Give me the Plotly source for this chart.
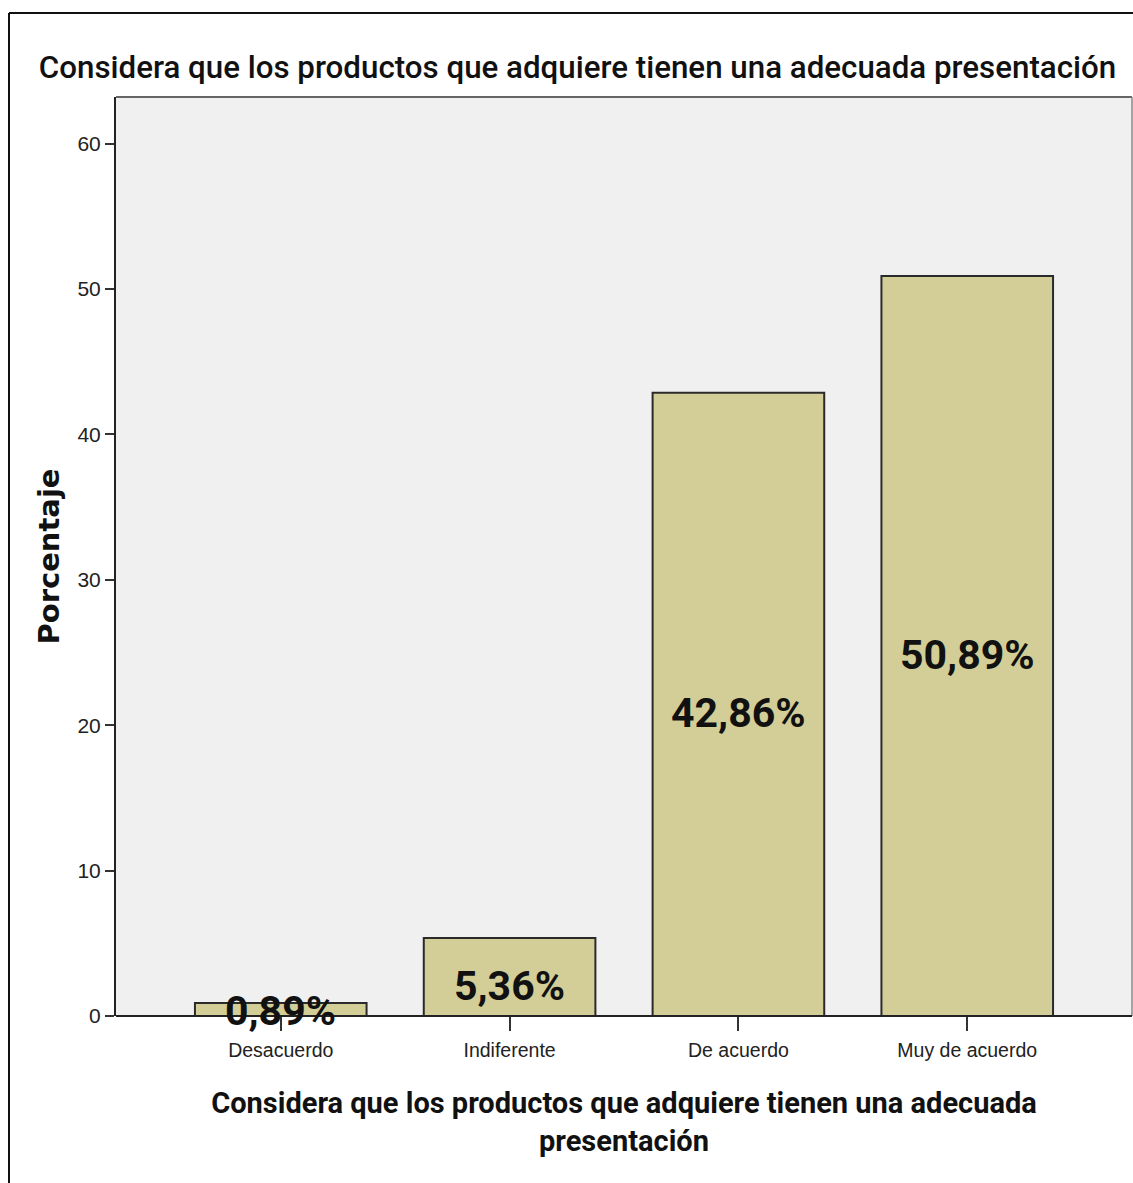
import plotly.graph_objects as go

categories = ["Desacuerdo", "Indiferente", "De acuerdo", "Muy de acuerdo"]
percentages = [0.89, 5.36, 42.86, 50.89]
labels = ["0,89%", "5,36%", "42,86%", "50,89%"]
y_ticks = [0, 10, 20, 30, 40, 50, 60]

title_text = "Considera que los productos que adquiere tienen una adecuada presentación"
xaxis_title = "Considera que los productos que adquiere tienen una adecuada<br>presentación"
yaxis_title = "Porcentaje"

FONT = "Roboto, Liberation Sans, Arial, sans-serif"
TICKFONT = "Liberation Sans, Arial, sans-serif"

W, H = 1133, 1183
L, R, T, B = 116, 1, 97, 167
pw, ph = W - L - R, H - T - B

def px_x(x):
    return (x - L) / pw

def px_y(y):
    return (H - B - y) / ph

fig = go.Figure()
fig.add_trace(go.Bar(
    x=categories, y=percentages, width=0.75,
    marker=dict(color="#D3CE97", line=dict(color="#2a2a2a", width=2)),
    hoverinfo="skip", showlegend=False,
))
for cat, val, lab in zip(categories, percentages, labels):
    fig.add_annotation(
        x=cat, y=val / 2, text=lab, showarrow=False,
        xanchor="center", yanchor="middle", yshift=-min(9.0, 2.0 * val),
        font=dict(family=FONT, size=41, color="#111111", weight="bold"),
    )

fig.update_layout(
    width=W, height=H,
    margin=dict(l=L, r=R, t=T, b=B),
    paper_bgcolor="white", plot_bgcolor="#F0F0F0",
    font=dict(family=FONT, color="#111111"),
    title=dict(text=title_text, x=(40 + 1115) / 2 / W, xanchor="center",
               y=1 - 67 / H, yanchor="middle",
               font=dict(family=FONT, size=31.3, color="#111111", weight=500)),
    xaxis=dict(range=[-0.72, 3.72], showgrid=False, zeroline=False,
               showline=False, ticks="outside", ticklen=14, tickwidth=1.5,
               tickcolor="#333333", ticklabelstandoff=3,
               tickfont=dict(family=TICKFONT, size=19.5, color="#222222"),
               title=dict(text=xaxis_title, standoff=32,
                          font=dict(family=FONT, size=29, color="#111111", weight="bold"))),
    yaxis=dict(range=[0, 63.2], tickvals=y_ticks, showgrid=False, zeroline=False,
               showline=True, linecolor="#222222", linewidth=2,
               ticks="outside", ticklen=9, tickwidth=1.5, tickcolor="#333333",
               tickfont=dict(family=TICKFONT, size=21, color="#222222"),
               title=dict(text=yaxis_title, standoff=9,
                          font=dict(family="DejaVu Sans, Verdana, sans-serif", size=29,
                                    color="#111111", weight="bold"))),
    shapes=[
        dict(type="line", xref="paper", yref="paper", x0=0, x1=1, y0=1, y1=1,
             line=dict(color="#666666", width=2)),
        dict(type="line", xref="paper", yref="paper", x0=1, x1=1, y0=0, y1=1,
             line=dict(color="#888888", width=1.5)),
        dict(type="line", xref="paper", yref="paper", x0=0, x1=1, y0=0, y1=0,
             line=dict(color="#222222", width=2)),
        dict(type="line", xref="paper", yref="paper", x0=px_x(9), x1=px_x(9),
             y0=px_y(13), y1=px_y(H + 5), line=dict(color="#111111", width=2)),
        dict(type="line", xref="paper", yref="paper", x0=px_x(9), x1=px_x(W + 5),
             y0=px_y(13), y1=px_y(13), line=dict(color="#111111", width=2)),
    ],
)

fig.write_html("out.html")
